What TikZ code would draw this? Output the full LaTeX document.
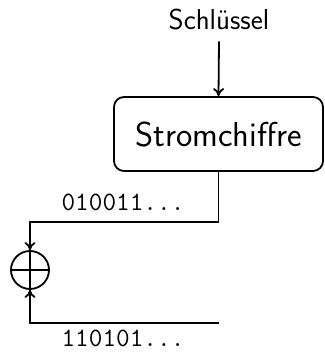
\documentclass[tikz,border=0pt]{standalone}
\usetikzlibrary{arrows.meta}
\begin{document}
\begin{tikzpicture}[x=1pt,y=-1pt,
    line width=1.8pt,
    flow/.style={-{To[length=8pt,width=11pt]}},
    caption/.style={font=\sffamily\fontsize{28.8}{34}\selectfont, inner sep=0pt},
    cipher/.style={draw, rounded corners=10pt, minimum width=209pt, minimum height=74pt,
                   font=\sffamily\fontsize{34.6}{40}\selectfont},
    bits/.style={font=\ttfamily\fontsize{26.5}{30}\selectfont, inner sep=0pt},
    xorop/.style={draw, circle, minimum size=38pt, inner sep=0pt,
                  path picture={
                    \draw (path picture bounding box.north) -- (path picture bounding box.south);
                    \draw (path picture bounding box.west) -- (path picture bounding box.east);
                  }}]
  \useasboundingbox (0,0) rectangle (324,352);

  % key input and the stream cipher block
  \node[caption] (key) at (219,20) {Schlüssel};
  \node[cipher] (box) at (218.5,134) {Stromchiffre};
  \draw[flow] ([yshift=-10pt]key.south) -- (box.north);

  % XOR of keystream and plaintext bits
  \node[xorop] (xor) at (30,270) {};
  \draw[flow] (box.south) -- ++(0,50) -| (xor.north);
  \coordinate (plain) at (219,323);
  \draw[flow] (plain) -| (xor.south);

  % bit sequence labels
  \node[bits] (ks) at (123,202) {010011...};
  \node[bits] (pt) at (123,338) {110101...};
\end{tikzpicture}
\end{document}
